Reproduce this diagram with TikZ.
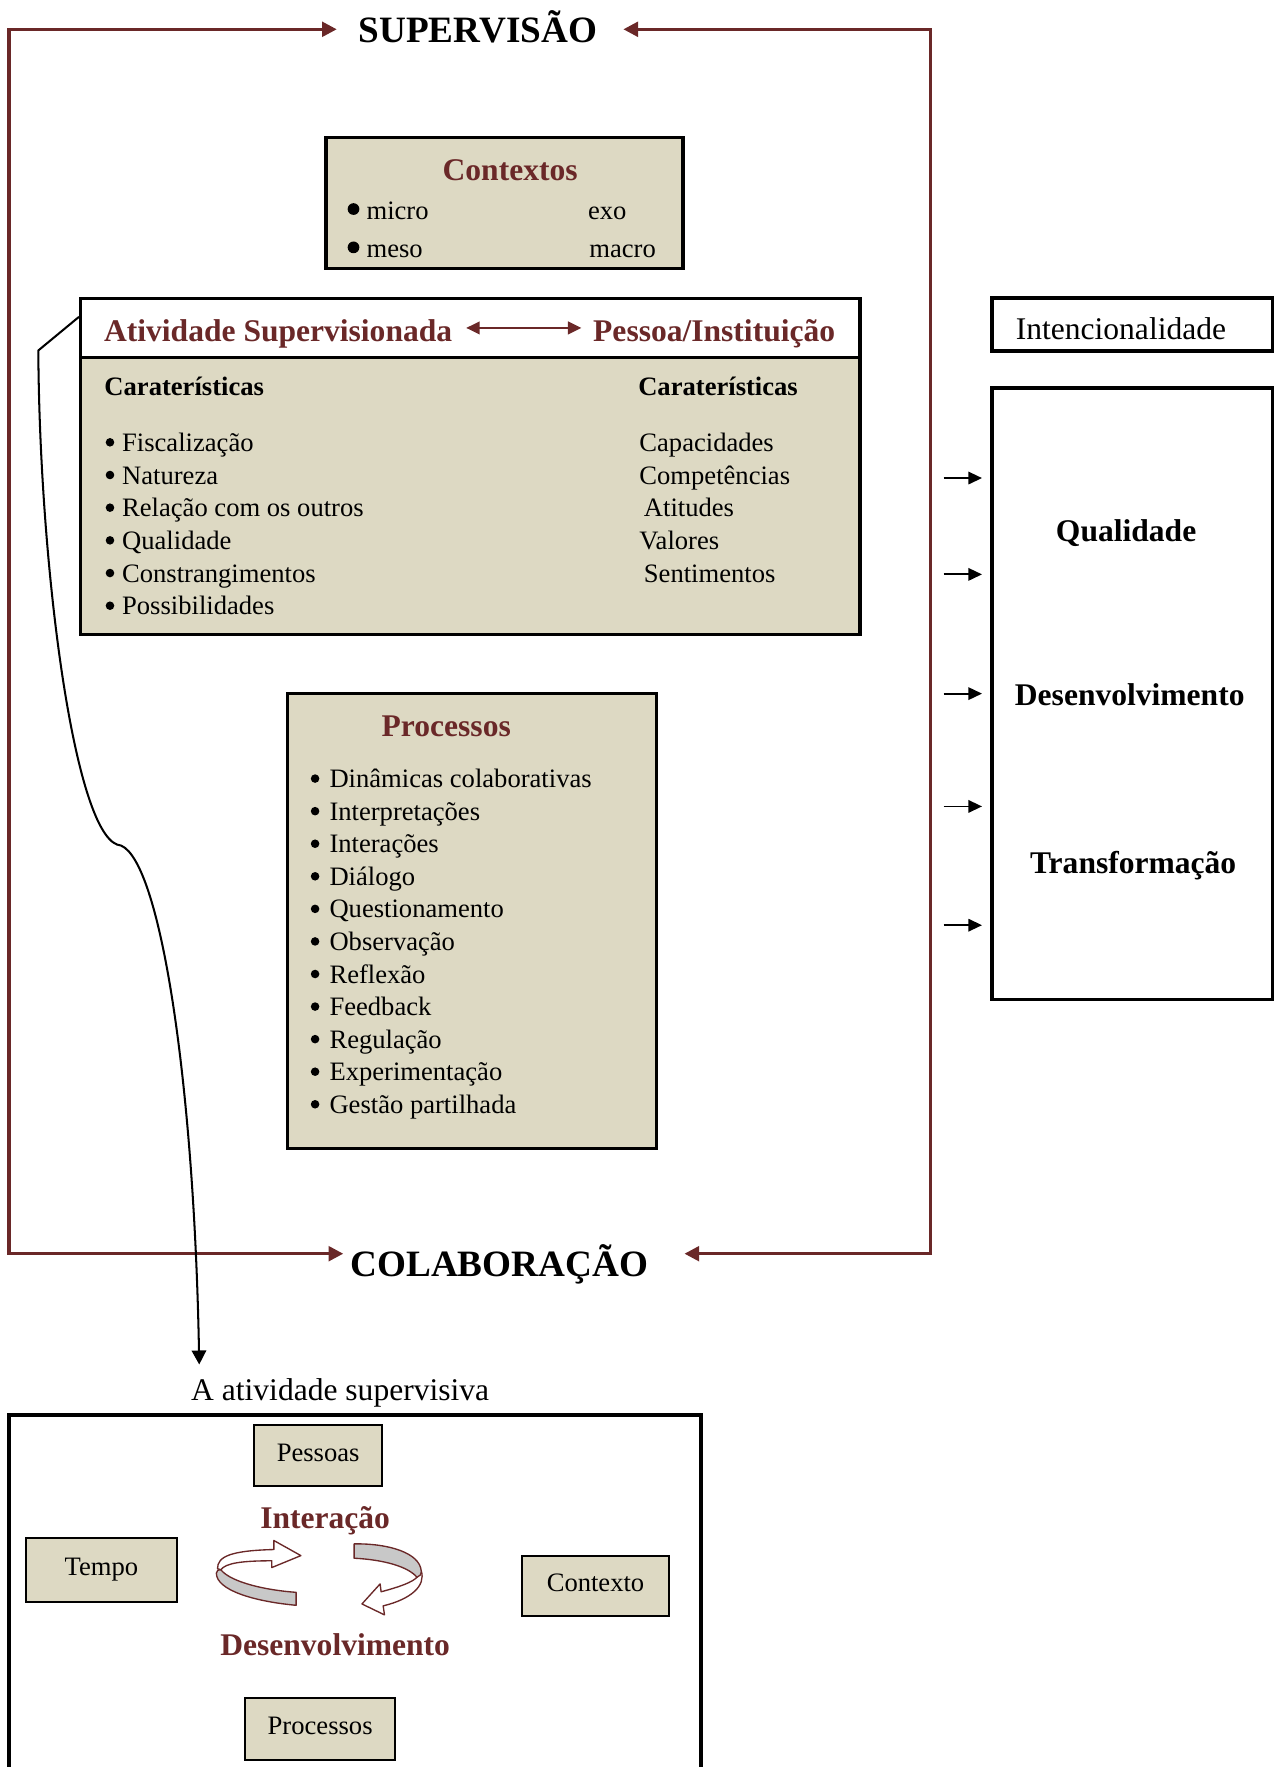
\documentclass[tikz,border=0pt]{standalone}
\usepackage{fontspec}
\setmainfont{Liberation Serif}
\usetikzlibrary{arrows.meta}
\definecolor{dred}{HTML}{6A2828}
\definecolor{beige}{HTML}{DDD9C3}
\definecolor{ribbongray}{HTML}{C8C8C8}

\begin{document}
\begin{tikzpicture}[x=0.5pt,y=-0.5pt,
  redline/.style={draw=dred,line width=1.4pt},
  panel/.style={fill=beige,draw=black,line width=1.5pt,inner sep=0pt},
  whitepanel/.style={fill=white,draw=black,line width=1.5pt,inner sep=0pt},
  smallbox/.style={fill=beige,draw=black,line width=0.9pt,inner sep=0pt,
    font=\fontsize{11.8}{14}\selectfont,text height=0.7em,text depth=0.2em},
  lbl/.style={inner sep=0pt,text height=0.7em,text depth=0.2em},
  bodytext/.style={lbl,yshift=-1.5pt,font=\fontsize{11.8}{14}\selectfont},
  bodybold/.style={lbl,yshift=-1.5pt,font=\fontsize{11.8}{14}\selectfont\bfseries},
  bigtext/.style={lbl,yshift=-2.3pt,font=\fontsize{14}{17}\selectfont},
  bigbold/.style={lbl,yshift=-2.3pt,font=\fontsize{14}{17}\selectfont\bfseries},
  headline/.style={lbl,yshift=-3.5pt,font=\fontsize{16.5}{20}\selectfont\bfseries},
  ribbonline/.style={draw=dred,line width=0.6pt,line join=round},
  smallarrow/.style={draw=black,line width=0.8pt,-{Triangle[length=6pt,width=5.5pt]}},
]
\useasboundingbox (0,0) rectangle (1131,1568);
\clip (0,0) rectangle (1131,1568);

% ---------- outer frame: SUPERVISAO / COLABORACAO ----------
\coordinate (tl) at (8,26);
\coordinate (tr) at (826,26);
\coordinate (bl) at (8,1112.5);
\coordinate (br) at (826,1112.5);
\node[headline] (sup) at (424,26) {SUPERVISÃO};
\node[headline] (colab) at (443,1121) {COLABORAÇÃO};

\draw[redline,{Triangle[length=6.5pt,width=6.5pt]}-{Triangle[length=6.5pt,width=6.5pt]},
      shorten <=3pt,shorten >=9.5pt]
  (bl -| colab.west) -- (bl) -- (tl) -- (tl -| sup.west);
\draw[redline,{Triangle[length=6.5pt,width=6.5pt]}-{Triangle[length=6.5pt,width=6.5pt]},
      shorten <=16pt,shorten >=11.5pt]
  (br -| colab.east) -- (br) -- (tr) -- (tr -| sup.east);

% ---------- Contextos ----------
\node[panel,minimum width=158.3pt,minimum height=58.25pt] (ctx) at (447.7,180.25) {};
\node[bigbold,text=dred] (ctxtitle) at (452.7,150.9) {Contextos};
\fill (313.7,185.5) circle[radius=2.6pt];
\fill (313.7,219.5) circle[radius=2.6pt];
\node[bodytext,anchor=west] (micro) at (324.9,186.4) {micro};
\node[bodytext,anchor=west] (meso) at (324.9,220.4) {meso};
\node[bodytext,anchor=west] (exo) at (521.4,186.4) {exo};
\node[bodytext,anchor=west] (macro) at (522.6,220.4) {macro};

% ---------- Atividade Supervisionada / Pessoa ----------
\node[panel,minimum width=345.7pt,minimum height=149.1pt] (main) at (417.3,413.9) {};
\node[whitepanel,minimum width=345.7pt,minimum height=26.35pt] (hdr) at (417.3,291.15) {};
\node[bigbold,text=dred,anchor=west] (atv) at (92,293) {Atividade Supervisionada};
\node[bigbold,text=dred,anchor=west] (pes) at (526,293) {Pessoa/Instituição};
\draw[dred,line width=1.2pt,{Triangle[length=6pt,width=5.5pt]}-{Triangle[length=6pt,width=5.5pt]},
      shorten <=6pt,shorten >=5pt] (atv.east |- 0,291) -- (pes.west |- 0,291);

\node[bodybold,anchor=west] (carL) at (92.3,343.3) {Caraterísticas};
\node[bodybold,anchor=west] (carR) at (566,343.3) {Caraterísticas};

\foreach \txt [count=\i from 0] in {Fiscalização, Natureza, Relação com os outros,
    Qualidade, Constrangimentos, Possibilidades} {
  \fill (97.6,{392.5+29*\i}) circle[radius=1.9pt];
  \node[bodytext,anchor=west] (sa\i) at (108,{392.5+29*\i}) {\txt};
}
\node[bodytext,anchor=west] (pa0) at (567,392.5) {Capacidades};
\node[bodytext,anchor=west] (pa1) at (567,421.5) {Competências};
\node[bodytext,anchor=west] (pa2) at (571,450.5) {Atitudes};
\node[bodytext,anchor=west] (pa3) at (567,479.5) {Valores};
\node[bodytext,anchor=west] (pa4) at (571,508.5) {Sentimentos};

% ---------- Processos ----------
\node[panel,minimum width=163.65pt,minimum height=201.95pt] (proc) at (418.65,817.45) {};
\node[bigbold,text=dred] (proctitle) at (396,643.6) {Processos};
\foreach \txt [count=\i from 0] in {Dinâmicas colaborativas, Interpretações, Interações,
    Diálogo, Questionamento, Observação, Reflexão, Feedback, Regulação,
    Experimentação, Gestão partilhada} {
  \fill (279.6,{690.9+28.9*\i}) circle[radius=1.9pt];
  \node[bodytext,anchor=west] (pr\i) at (292,{690.9+28.9*\i}) {\txt};
}

% ---------- Intencionalidade and outcomes ----------
\node[whitepanel,minimum width=124.35pt,minimum height=23.55pt] (intent) at (1004.65,287.85) {};
\node[bigtext,anchor=west] (intenttext) at (901,292) {Intencionalidade};
\node[whitepanel,minimum width=124.35pt,minimum height=271.3pt] (qbox) at (1004.65,615.7) {};
\node[bigbold] (qual) at (999.3,470.5) {Qualidade};
\node[bigbold] (desen) at (1002.5,616.3) {Desenvolvimento};
\node[bigbold] (trans) at (1005.5,765.2) {Transformação};
\foreach \yy [count=\i] in {424.2,509.7,615.5,715.6,821} {
  \coordinate (qa\i) at (837.4,\yy);
  \draw[smallarrow,shorten >=3.7pt] (qa\i) -- (qa\i -| qbox.west);
}

% ---------- curved brace leading to the lower panel ----------
\coordinate (cend) at (176.8,1210.8);
\node[bigtext,anchor=west] (ativsup) at (169.3,1233) {A atividade supervisiva};
\draw[black,line width=0.9pt,line join=round,-{Triangle[length=6.2pt,width=6.4pt]}]
  ([yshift=5pt]hdr.west) -- (34,311)
  .. controls (35,500) and (65,735) .. (104,749.5)
  .. controls (140,752) and (172,950) .. (cend);

% ---------- lower panel ----------
\node[panel,fill=white,minimum width=307pt,minimum height=172.25pt] (lower) at (315,1427.75) {};
\node[smallbox,minimum width=56.5pt,minimum height=27.05pt] (pessoas) at (282.3,1291.45) {Pessoas};
\node[smallbox,minimum width=66.7pt,minimum height=28.55pt] (tempo) at (90,1393.25) {Tempo};
\node[smallbox,minimum width=65.05pt,minimum height=26.35pt] (contexto) at (528.45,1407.35) {Contexto};
\node[smallbox,minimum width=66.3pt,minimum height=27.25pt] (processos) at (284.1,1534.25) {Processos};
\node[bigbold,text=dred] (interacao) at (288.5,1346.4) {Interação};
\node[bigbold,text=dred] (desenv) at (297.4,1459.7) {Desenvolvimento};

% circular ribbon arrows
\filldraw[ribbonline,fill=white]
  (193,1392) .. controls (193,1381) and (205,1376) .. (243,1375)
  -- (243,1367) -- (267,1380.4) -- (241.2,1391) -- (241.2,1385)
  .. controls (215,1385) and (200,1387) .. (196,1393) -- cycle;
\filldraw[ribbonline,fill=ribbongray]
  (196,1393) .. controls (205,1404) and (235,1411) .. (262.8,1413)
  -- (262.8,1424.5) .. controls (225,1421) and (192,1411) .. (192,1396)
  .. controls (192,1394) and (194,1392) .. (196,1393) -- cycle;

\filldraw[ribbonline,fill=white]
  (373.8,1394) .. controls (378,1407) and (365,1419) .. (340,1425)
  -- (341.2,1433) -- (321.2,1423.3) -- (337.3,1405.5) -- (338.2,1412.5)
  .. controls (355,1408) and (366,1404) .. (370,1399.6) -- cycle;
\filldraw[ribbonline,fill=ribbongray]
  (314.2,1370) .. controls (345,1369.5) and (372.5,1378) .. (373.8,1394)
  .. controls (374,1397) and (372.5,1399) .. (370,1399.6)
  .. controls (362,1390) and (340,1384) .. (314.2,1382.7) -- cycle;
\end{tikzpicture}
\end{document}
